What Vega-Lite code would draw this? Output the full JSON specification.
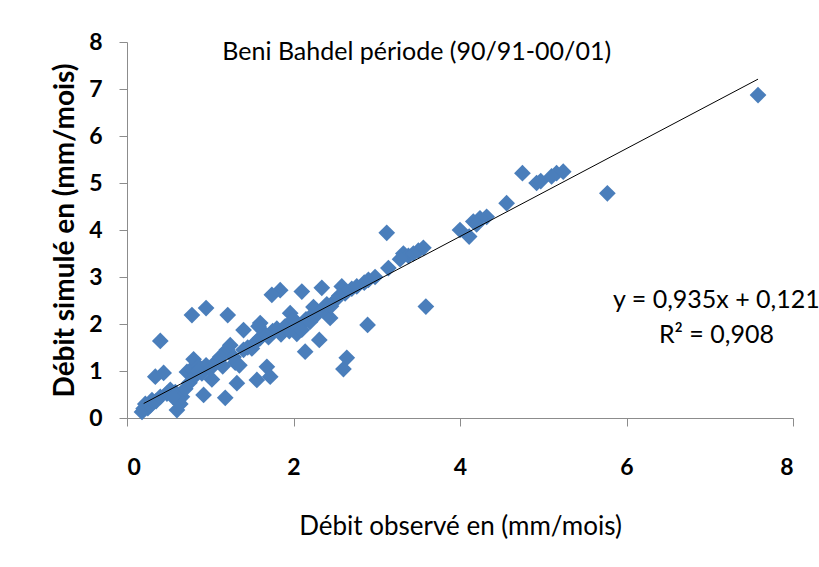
{
  "$schema": "https://vega.github.io/schema/vega-lite/v6.json",
  "autosize": "none",
  "width": 666,
  "height": 376,
  "padding": {"left": 127, "top": 42, "right": 26, "bottom": 149},
  "background": "white",
  "config": {
    "view": {"stroke": null},
    "font": "Lato",
    "axis": {
      "grid": false,
      "domainColor": "#8c8c8c",
      "tickColor": "#8c8c8c",
      "tickSize": 8,
      "labelFont": "Lato",
      "labelFontSize": 23,
      "labelFontWeight": "bold",
      "labelColor": "#000000",
      "titleFont": "Lato",
      "titleColor": "#000000"
    }
  },
  "datasets": {
    "obs": [
      {"obs": 7.58, "sim": 6.87}, {"obs": 5.77, "sim": 4.78}, {"obs": 4.75, "sim": 5.21},
      {"obs": 4.92, "sim": 5.0}, {"obs": 4.97, "sim": 5.04}, {"obs": 5.1, "sim": 5.14},
      {"obs": 5.16, "sim": 5.21}, {"obs": 5.24, "sim": 5.24}, {"obs": 4.56, "sim": 4.57},
      {"obs": 4.32, "sim": 4.28}, {"obs": 4.24, "sim": 4.25}, {"obs": 4.16, "sim": 4.18},
      {"obs": 4.2, "sim": 4.12}, {"obs": 4.0, "sim": 4.0}, {"obs": 4.11, "sim": 3.86},
      {"obs": 3.12, "sim": 3.94}, {"obs": 3.32, "sim": 3.5}, {"obs": 3.38, "sim": 3.45},
      {"obs": 3.44, "sim": 3.5}, {"obs": 3.5, "sim": 3.56}, {"obs": 3.56, "sim": 3.62},
      {"obs": 3.28, "sim": 3.38}, {"obs": 3.59, "sim": 2.37}, {"obs": 3.14, "sim": 3.19},
      {"obs": 2.98, "sim": 3.0}, {"obs": 2.9, "sim": 2.94}, {"obs": 2.85, "sim": 2.88},
      {"obs": 2.76, "sim": 2.8}, {"obs": 2.7, "sim": 2.75}, {"obs": 2.89, "sim": 1.98},
      {"obs": 2.64, "sim": 1.28}, {"obs": 2.6, "sim": 1.04}, {"obs": 2.58, "sim": 2.8},
      {"obs": 2.62, "sim": 2.65}, {"obs": 2.55, "sim": 2.6}, {"obs": 2.5, "sim": 2.5},
      {"obs": 2.44, "sim": 2.13}, {"obs": 2.34, "sim": 2.77}, {"obs": 2.31, "sim": 1.66},
      {"obs": 2.24, "sim": 2.36}, {"obs": 2.14, "sim": 1.41}, {"obs": 2.1, "sim": 2.69},
      {"obs": 2.04, "sim": 1.79}, {"obs": 1.96, "sim": 2.23}, {"obs": 1.84, "sim": 2.72},
      {"obs": 1.74, "sim": 2.62}, {"obs": 1.6, "sim": 2.02}, {"obs": 1.4, "sim": 1.87},
      {"obs": 1.21, "sim": 2.19}, {"obs": 0.95, "sim": 2.34}, {"obs": 0.78, "sim": 2.19},
      {"obs": 0.4, "sim": 1.64}, {"obs": 0.34, "sim": 0.88}, {"obs": 0.44, "sim": 0.96},
      {"obs": 0.18, "sim": 0.13}, {"obs": 0.25, "sim": 0.21}, {"obs": 0.6, "sim": 0.17},
      {"obs": 0.92, "sim": 0.49}, {"obs": 1.18, "sim": 0.43}, {"obs": 1.32, "sim": 0.74},
      {"obs": 1.56, "sim": 0.81}, {"obs": 1.68, "sim": 1.09}, {"obs": 1.72, "sim": 0.88},
      {"obs": 0.2, "sim": 0.2}, {"obs": 0.22, "sim": 0.3}, {"obs": 0.28, "sim": 0.27},
      {"obs": 0.3, "sim": 0.38}, {"obs": 0.35, "sim": 0.36}, {"obs": 0.4, "sim": 0.45},
      {"obs": 0.48, "sim": 0.52}, {"obs": 0.52, "sim": 0.6}, {"obs": 0.58, "sim": 0.55},
      {"obs": 0.64, "sim": 0.3}, {"obs": 0.66, "sim": 0.45}, {"obs": 0.7, "sim": 0.62},
      {"obs": 0.72, "sim": 0.98}, {"obs": 0.75, "sim": 0.75}, {"obs": 0.78, "sim": 1.05},
      {"obs": 0.8, "sim": 1.25}, {"obs": 0.82, "sim": 0.9}, {"obs": 0.86, "sim": 1.1},
      {"obs": 0.9, "sim": 0.95}, {"obs": 0.95, "sim": 1.12}, {"obs": 1.0, "sim": 1.05},
      {"obs": 1.02, "sim": 0.82}, {"obs": 1.06, "sim": 1.18}, {"obs": 1.1, "sim": 1.22},
      {"obs": 1.15, "sim": 1.1}, {"obs": 1.2, "sim": 1.45}, {"obs": 1.24, "sim": 1.55},
      {"obs": 1.28, "sim": 1.3}, {"obs": 1.3, "sim": 1.18}, {"obs": 1.35, "sim": 1.12},
      {"obs": 1.4, "sim": 1.45}, {"obs": 1.45, "sim": 1.5}, {"obs": 1.5, "sim": 1.48},
      {"obs": 1.55, "sim": 1.62}, {"obs": 1.6, "sim": 1.7}, {"obs": 1.65, "sim": 1.8},
      {"obs": 1.7, "sim": 1.72}, {"obs": 1.75, "sim": 1.85}, {"obs": 1.8, "sim": 1.9},
      {"obs": 1.85, "sim": 1.78}, {"obs": 1.9, "sim": 1.95}, {"obs": 1.95, "sim": 1.85},
      {"obs": 2.0, "sim": 2.1}, {"obs": 2.05, "sim": 2.0}, {"obs": 2.1, "sim": 1.88},
      {"obs": 2.15, "sim": 2.1}, {"obs": 2.2, "sim": 2.15}, {"obs": 2.28, "sim": 2.2},
      {"obs": 2.35, "sim": 2.3}, {"obs": 2.4, "sim": 2.42}, {"obs": 2.45, "sim": 2.38},
      {"obs": 2.2, "sim": 2.05}, {"obs": 1.58, "sim": 1.95}, {"obs": 0.85, "sim": 1.0},
      {"obs": 1.12, "sim": 1.3}, {"obs": 0.55, "sim": 0.45}
    ],
    "trend": [
      {"obs": 0.2, "sim": 0.308},
      {"obs": 7.58, "sim": 7.21}
    ],
    "notes": [
      {"obs": 7.08, "sim": 2.51, "label": "y = 0,935x + 0,121"},
      {"obs": 7.08, "sim": 1.77, "label": "R² = 0,908"}
    ],
    "heading": [
      {"obs": 3.48, "sim": 7.79, "label": "Beni Bahdel période (90/91-00/01)"}
    ]
  },
  "encoding": {
    "x": {
      "field": "obs", "type": "quantitative",
      "scale": {"domain": [0, 8], "nice": false, "zero": true},
      "axis": {
        "values": [0, 2, 4, 6, 8],
        "labelPadding": 30,
        "title": "Débit observé en (mm/mois)",
        "titleFontSize": 26,
        "titleFontWeight": "normal",
        "titlePadding": 34
      }
    },
    "y": {
      "field": "sim", "type": "quantitative",
      "scale": {"domain": [0, 8], "nice": false},
      "axis": {
        "values": [0, 1, 2, 3, 4, 5, 6, 7, 8],
        "labelPadding": 17,
        "title": "Débit simulé en (mm/mois)",
        "titleFontSize": 28,
        "titleFontWeight": "bold",
        "titlePadding": 9
      }
    }
  },
  "layer": [
    {
      "data": {"name": "obs"},
      "mark": {"type": "point", "shape": "diamond", "filled": true, "size": 280, "color": "#4a7ebb", "opacity": 1}
    },
    {
      "data": {"name": "trend"},
      "mark": {"type": "line", "color": "#000000", "strokeWidth": 1}
    },
    {
      "data": {"name": "notes"},
      "mark": {"type": "text", "fontSize": 25, "align": "center", "baseline": "middle", "color": "#000000", "clip": false},
      "encoding": {"text": {"field": "label"}}
    },
    {
      "data": {"name": "heading"},
      "mark": {"type": "text", "fontSize": 25, "align": "center", "baseline": "middle", "color": "#000000"},
      "encoding": {"text": {"field": "label"}}
    }
  ]
}
